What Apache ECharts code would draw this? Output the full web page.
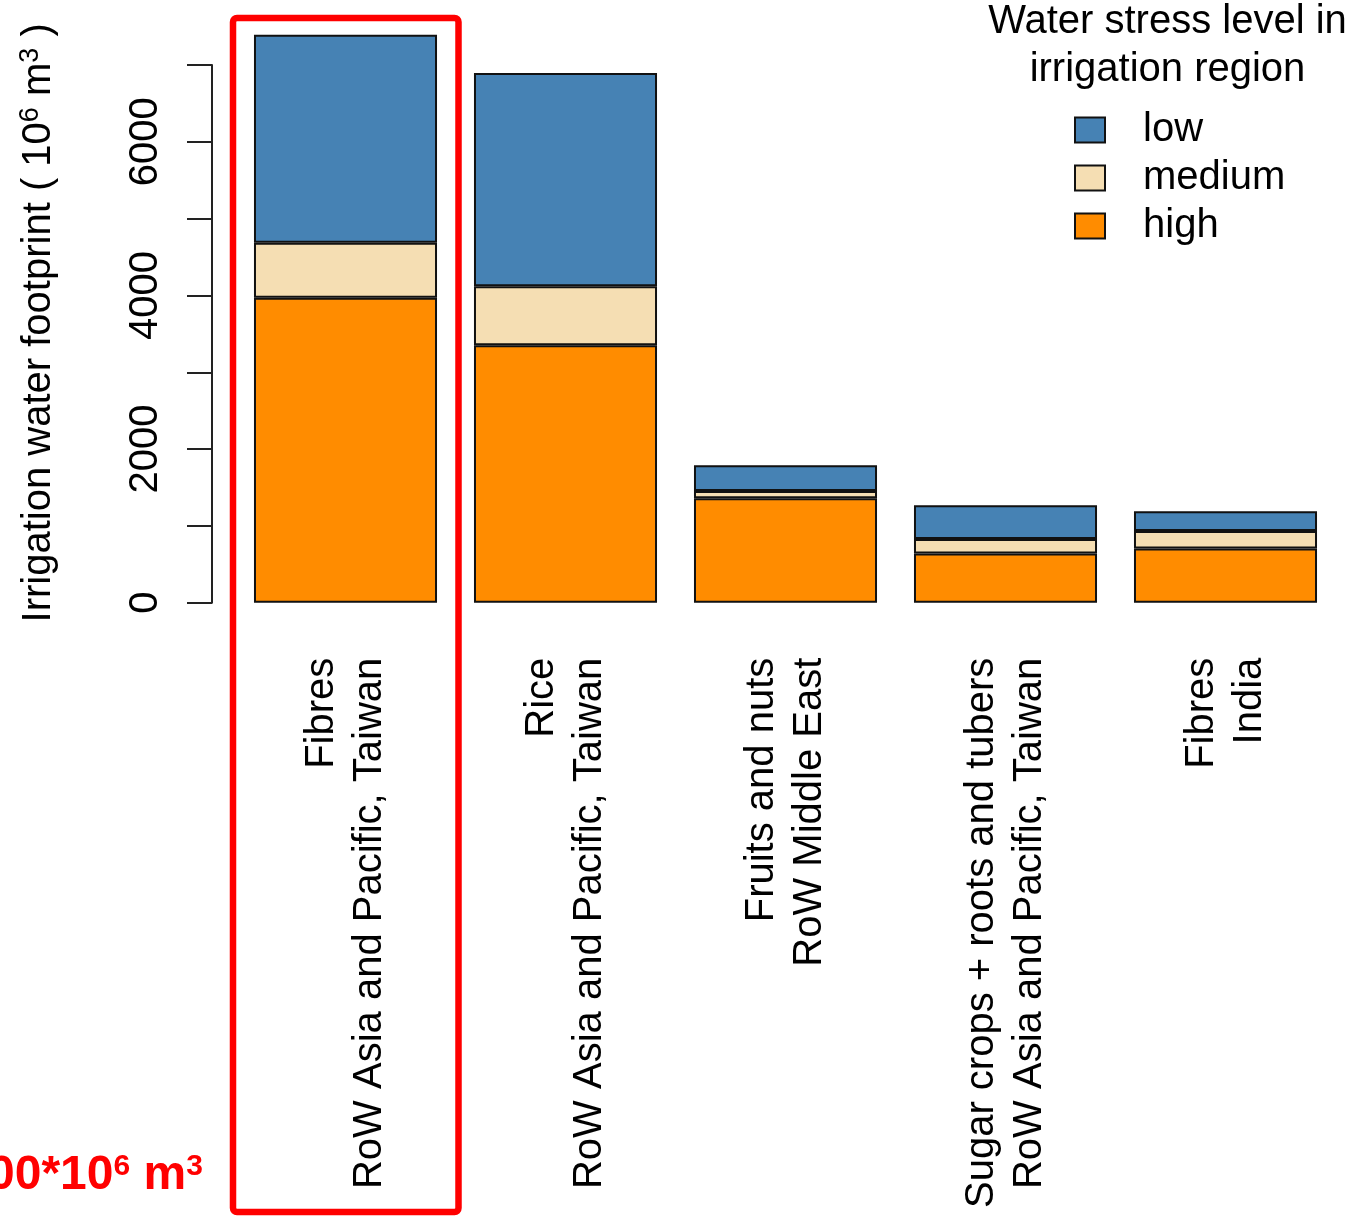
<!DOCTYPE html>
<html>
<head>
<meta charset="utf-8">
<script src="https://cdn.jsdelivr.net/npm/echarts@6/dist/echarts.min.js"></script>
<style>
  html, body { margin: 0; padding: 0; background: #fff; }
  #chart { width: 1355px; height: 1218px; }
</style>
</head>
<body>
<div id="chart"></div>
<script>
// crop + region for each bar
const categories = [
  'Fibres\nRoW Asia and Pacific, Taiwan',
  'Rice\nRoW Asia and Pacific, Taiwan',
  'Fruits and nuts\nRoW Middle East',
  'Sugar crops + roots and tubers\nRoW Asia and Pacific, Taiwan',
  'Fibres\nIndia'
]
// 10^6 m3
const highValues = [3970, 3350, 1360, 640, 705]
const mediumValues = [715, 770, 95, 190, 230]
const lowValues = [2710, 2775, 335, 440, 255]
const yLabelTicks = [0, 2000, 4000, 6000]

const FONT = '"Liberation Sans", Arial, sans-serif'
const colors = { low: '#4682B4', medium: '#F5DEB3', high: '#FF8C00' }

const chart = echarts.init(document.getElementById('chart'))

const barSeries = (name, data) => ({
  name: name,
  type: 'bar',
  stack: 'total',
  data: data,
  clip: false,
  barCategoryGap: '16.8%',
  itemStyle: {
    color: colors[name],
    borderColor: '#111',
    borderWidth: 2
  },
  emphasis: { disabled: true }
})

const option = {
  animation: false,
  textStyle: { fontFamily: FONT },
  grid: { left: 235.5, right: 19.5, top: 65, bottom: 615.3 },
  legend: {
    data: ['low', 'medium', 'high'],
    icon: 'rect',
    orient: 'vertical',
    left: 1074,
    top: 106,
    padding: 0,
    itemWidth: 30,
    itemHeight: 25,
    itemGap: 0,
    textStyle: {
      fontFamily: FONT,
      fontSize: 40,
      color: '#000',
      lineHeight: 44,
      padding: [4, 0, 0, 33]
    }
  },
  xAxis: {
    type: 'category',
    data: categories,
    axisLine: { show: false },
    axisTick: { show: false },
    axisLabel: {
      rotate: 90,
      interval: 0,
      margin: 55,
      fontFamily: FONT,
      fontSize: 40,
      lineHeight: 48,
      color: '#000'
    }
  },
  yAxis: {
    type: 'value',
    min: 0,
    max: 7000,
    interval: 1000,
    offset: 23.5,
    splitLine: { show: false },
    axisLine: { show: true, lineStyle: { color: '#222', width: 2 } },
    axisTick: { show: true, length: 25, lineStyle: { color: '#222', width: 2 } },
    axisLabel: {
      rotate: 90,
      margin: 46,
      fontFamily: FONT,
      fontSize: 40,
      color: '#000',
      formatter: v => (yLabelTicks.includes(v) ? String(v) : '')
    },
    name: '{n|Irrigation water footprint ( 10}{s|6}{n| m}{s|3}{n| )}',
    nameLocation: 'middle',
    nameRotate: 90,
    nameGap: 151,
    nameMoveOverlap: false,
    nameTextStyle: {
      padding: [0, 0, 0, 22],
      rich: {
        n: { fontFamily: FONT, fontSize: 40, color: '#000', lineHeight: 44 },
        s: { fontFamily: FONT, fontSize: 27, color: '#000', verticalAlign: 'top', lineHeight: 44 }
      }
    }
  },
  series: [
    barSeries('high', highValues),
    barSeries('medium', mediumValues),
    barSeries('low', lowValues)
  ],
  graphic: [
    {
      type: 'text',
      x: 1167.5,
      y: -2,
      style: {
        text: 'Water stress level in\nirrigation region',
        fontFamily: FONT,
        fontSize: 40,
        lineHeight: 48,
        fill: '#000',
        align: 'center',
        verticalAlign: 'top'
      }
    },
    {
      // red highlight around the first bar
      type: 'rect',
      shape: { x: 233, y: 18, width: 225.5, height: 1194, r: 4 },
      style: { fill: 'none', stroke: '#FF0000', lineWidth: 6.5 }
    },
    {
      type: 'text',
      x: -12,
      y: 1176,
      style: {
        text: '{b|00*10}{s|6}{b| m}{s|3}',
        verticalAlign: 'middle',
        rich: {
          b: { fontFamily: FONT, fontSize: 48, fontWeight: 'bold', fill: '#FF0000', lineHeight: 48 },
          s: { fontFamily: FONT, fontSize: 30, fontWeight: 'bold', fill: '#FF0000', verticalAlign: 'top', lineHeight: 48 }
        }
      }
    }
  ]
}

chart.setOption(option)
</script>
</body>
</html>
